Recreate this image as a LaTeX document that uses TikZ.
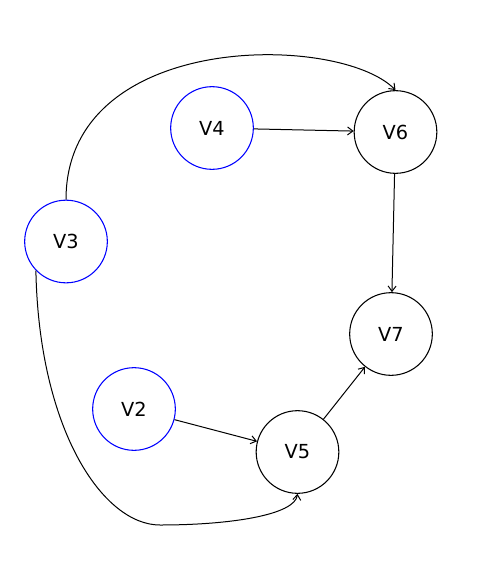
\documentclass[tikz,border=0pt]{standalone}
\usepackage{fontspec}
\setmainfont{DejaVu Sans}
\usetikzlibrary{arrows.meta}
\begin{document}
\begin{tikzpicture}[x=0.75pt,y=-0.75pt,
  vert/.style={circle,draw,line width=0.8pt,minimum size=62pt,inner sep=0pt,font=\fontsize{14.5}{17}\selectfont},
  src/.style={vert,draw=blue},
  dst/.style={vert,draw=black},
  edge/.style={line width=0.75pt,-{Straight Barb[length=4pt,width=6pt]}}]
\useasboundingbox (0,0) rectangle (481,564);
\node[src] (v4) at (212,128) {V4};
\node[dst] (v6) at (395.5,132) {V6};
\node[src] (v3) at (66,241.5) {V3};
\node[dst] (v7) at (391,334) {V7};
\node[src] (v2) at (134,409) {V2};
\node[dst] (v5) at (297.5,452) {V5};
\coordinate (b) at (160,525);
\draw[edge] (v4) -- (v6);
\draw[edge] (v6) -- (v7);
\draw[edge] (v2) -- (v5);
\draw[edge] (v5) -- (v7);
\draw[edge] (v3.north) .. controls (66,30) and (340,33) .. (v6.north);
\draw[edge] (v3.224) .. controls (39,430) and (103,525) .. (b)
  .. controls (230,525) and (295,515) .. (v5.south);
\end{tikzpicture}
\end{document}
